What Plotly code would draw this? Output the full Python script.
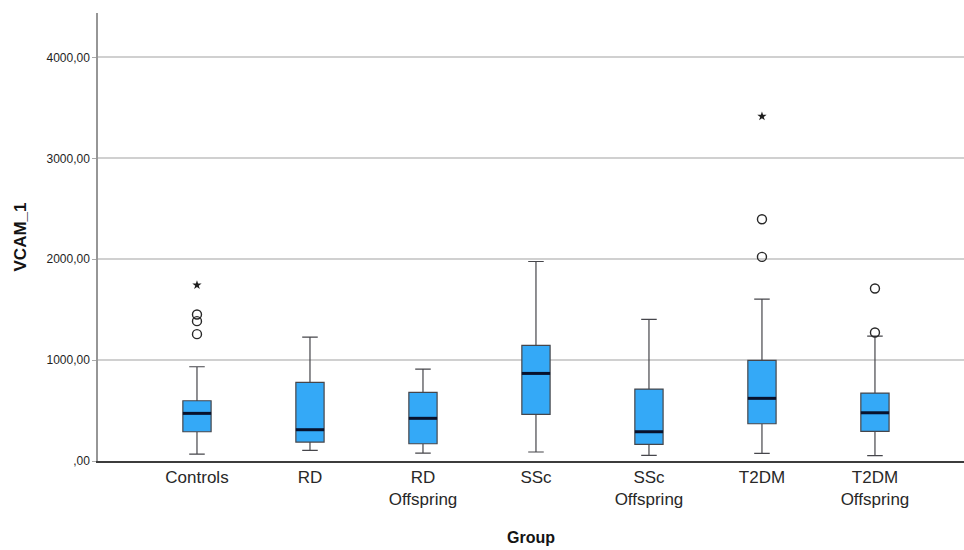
import plotly.graph_objects as go

# Groups and five-number summaries of VCAM_1
groups = ["Controls", "RD", "RD<br>Offspring", "SSc", "SSc<br>Offspring", "T2DM", "T2DM<br>Offspring"]
lower_whisker = [69, 106, 79, 89, 56, 76, 53]
q1 = [290, 188, 171, 462, 165, 369, 294]
median = [472, 310, 423, 868, 290, 621, 478]
q3 = [597, 779, 680, 1145, 713, 997, 673]
upper_whisker = [934, 1228, 911, 1977, 1403, 1604, 1238]

# Outliers (circles) and extreme values (stars): (group index, value)
outlier_group = [0, 0, 0, 5, 5, 6, 6]
outlier_value = [1452, 1386, 1257, 2396, 2023, 1710, 1274]
extreme_group = [0, 5]
extreme_value = [1743, 3416]

y_tickvals = [0, 1000, 2000, 3000, 4000]
y_ticktext = [",00", "1000,00", "2000,00", "3000,00", "4000,00"]

FONT = "Liberation Sans, Arial, sans-serif"
BOX_WIDTH = 0.25
positions = list(range(len(groups)))

fig = go.Figure()

fig.add_trace(go.Box(
    x=positions,
    q1=q1,
    median=median,
    q3=q3,
    lowerfence=lower_whisker,
    upperfence=upper_whisker,
    width=BOX_WIDTH,
    whiskerwidth=0.55,
    fillcolor="rgb(52,169,247)",
    line=dict(color="rgb(70,70,75)", width=1.2),
    boxpoints=False,
    hoverinfo="skip",
    showlegend=False,
))

# Thick median bars drawn over each box
mx, my = [], []
for i, m in zip(positions, median):
    mx += [i - BOX_WIDTH / 2, i + BOX_WIDTH / 2, None]
    my += [m, m, None]
fig.add_trace(go.Scatter(
    x=mx, y=my, mode="lines",
    line=dict(color="rgb(8,18,45)", width=3),
    hoverinfo="skip", showlegend=False,
))

fig.add_trace(go.Scatter(
    x=outlier_group, y=outlier_value, mode="markers",
    marker=dict(symbol="circle-open", size=9, color="rgb(40,40,40)", line=dict(width=1.4)),
    hoverinfo="skip", showlegend=False,
))

fig.add_trace(go.Scatter(
    x=extreme_group, y=extreme_value, mode="markers",
    marker=dict(symbol="star", size=7, color="rgb(30,30,30)"),
    hoverinfo="skip", showlegend=False,
))

fig.update_layout(
    width=964,
    height=550,
    margin=dict(l=98, r=0, t=13, b=89),
    paper_bgcolor="white",
    plot_bgcolor="white",
    font=dict(family=FONT, color="rgb(35,35,35)"),
    xaxis=dict(
        range=[-0.876, 6.788],
        tickvals=positions,
        ticktext=groups,
        tickfont=dict(size=17, color="rgb(40,40,40)"),
        showgrid=False,
        zeroline=False,
        showline=True,
        linecolor="rgb(60,60,60)",
        linewidth=1.5,
        ticks="",
        title=dict(text="Group", font=dict(size=16, weight="bold", color="rgb(20,20,20)"), standoff=24),
    ),
    yaxis=dict(
        range=[0, 4440],
        tickvals=y_tickvals,
        ticktext=y_ticktext,
        tickfont=dict(size=12, color="rgb(30,30,30)"),
        showgrid=True,
        gridcolor="rgb(208,208,208)",
        gridwidth=1.5,
        zeroline=False,
        showline=True,
        linecolor="rgb(150,150,150)",
        linewidth=1.5,
        ticks="outside",
        ticklen=4,
        tickcolor="rgb(170,170,170)",
        title=dict(text="VCAM_1", font=dict(size=17, weight="bold", color="rgb(20,20,20)"), standoff=16),
    ),
)

fig.write_html("out.html")
